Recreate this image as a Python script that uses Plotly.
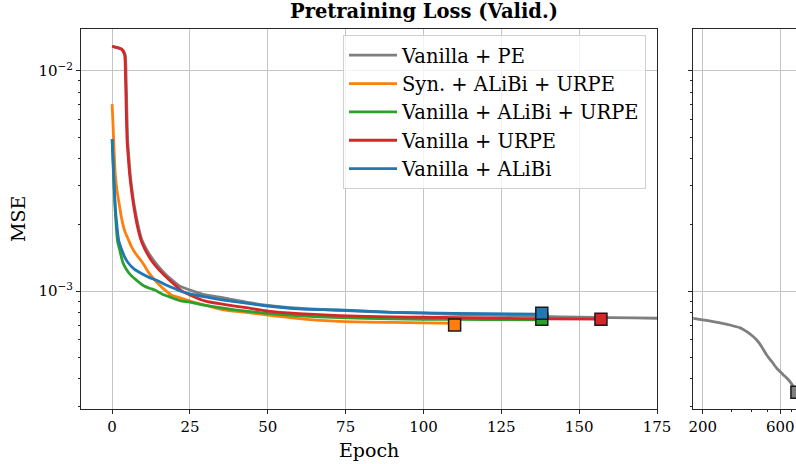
import math
import plotly.graph_objects as go

# ---------------- data ----------------
labels = ["Vanilla + PE", "Syn. + ALiBi + URPE", "Vanilla + ALiBi + URPE",
          "Vanilla + URPE", "Vanilla + ALiBi"]
colors = ["#7f7f7f", "#ff7f0e", "#2ca02c", "#d62728", "#1f77b4"]

pe_epoch = [0, 3.2, 4.2, 4.5, 4.7, 5.0, 5.4, 5.8, 6.5, 7.2, 8.3, 9.6, 11, 12.5, 14, 16, 18, 20,
            21.8, 25, 30, 35.8, 43, 50, 60, 75, 90, 100, 115, 125, 138, 150, 160, 175,
            200, 232, 294, 340, 373, 400, 430, 460, 495, 530, 571, 600, 627, 660, 689, 720, 760]
pe_loss = [0.0129, 0.0125, 0.0118, 0.0092, 0.0069, 0.0048, 0.0040, 0.0034, 0.0028, 0.0024, 0.0020,
           0.0017, 0.00155, 0.00143, 0.00134, 0.00124, 0.00116, 0.0011,
           0.00105, 0.00101, 0.00096, 0.00093, 0.00089, 0.00086, 0.000835, 0.000815, 0.0008,
           0.000793, 0.00078, 0.000775, 0.000766, 0.00076, 0.000757, 0.000752,
           0.00074, 0.000726, 0.000701, 0.00068, 0.000654, 0.00063, 0.000599, 0.00056, 0.000512,
           0.00048, 0.000446, 0.00043, 0.000416, 0.000402, 0.000388, 0.00037, 0.000347]

syn_epoch = [0, 0.5, 1.0, 1.5, 2.4, 3, 4, 5.3, 6.2, 7, 8, 9, 10, 11, 12, 13.7, 15, 17, 19,
             21.8, 25, 30, 35.8, 43, 50, 60, 73, 90, 100, 110]
syn_loss = [0.00705, 0.0048, 0.0034, 0.0029, 0.00242, 0.00215, 0.00188, 0.0017, 0.00159, 0.00152,
            0.00145, 0.00139, 0.00133, 0.00126, 0.0012, 0.00112, 0.00107, 0.00101, 0.00096,
            0.00093, 0.0009, 0.00086, 0.00082, 0.0008, 0.000778, 0.00075, 0.000728, 0.00072,
            0.000717, 0.000714]

aau_epoch = [0, 0.5, 1.0, 1.7, 2.5, 3.5, 4.5, 6, 7.8, 10, 12, 13.7, 16, 18.5, 21.8, 25, 30, 35.8,
             43, 50, 60, 73, 90, 100, 120, 138]
aau_loss = [0.00489, 0.0032, 0.0023, 0.0017, 0.00152, 0.00134, 0.00126, 0.00118, 0.00112, 0.00106,
            0.00103, 0.00101, 0.00097, 0.00094, 0.000905, 0.00089, 0.00086, 0.000835,
            0.00081, 0.000792, 0.000772, 0.000757, 0.000748, 0.000744, 0.000742, 0.00074]

urpe_epoch = [0, 2, 3.1, 4.0, 4.3, 4.5, 4.8, 5.2, 5.6, 6.3, 7.0, 8, 9.3, 10.5, 12, 13.2, 15, 17,
              20, 22, 25, 30, 35.8, 43, 50, 60, 73, 90, 100, 125, 140, 157]
urpe_loss = [0.0129, 0.0127, 0.0125, 0.0118, 0.0092, 0.0069, 0.0048, 0.0040, 0.0034, 0.0028,
             0.0024, 0.0020, 0.0017, 0.00155, 0.00142, 0.00134, 0.00125, 0.00117,
             0.00107, 0.00101, 0.00096, 0.0009, 0.00087, 0.00084, 0.000811, 0.00079, 0.000773,
             0.000763, 0.00076, 0.000752, 0.000748, 0.000745]

alibi_epoch = [0, 0.5, 1.0, 1.5, 2.1, 3, 4, 5.2, 7, 9.4, 12, 14.8, 17, 19, 21.8, 25, 30, 35.8,
               43, 50, 60, 73, 90, 100, 120, 138]
alibi_loss = [0.00489, 0.0034, 0.00242, 0.0020, 0.0017, 0.00155, 0.00143, 0.00134, 0.00126,
              0.0012, 0.00115, 0.00111, 0.00107, 0.00104, 0.0010, 0.00097, 0.00094, 0.00091,
              0.00088, 0.000855, 0.00083, 0.00082, 0.0008, 0.000795, 0.000789, 0.000785]

best_epoch = [760, 110, 138, 157, 138]
best_loss = [0.000347, 0.000701, 0.000744, 0.000744, 0.000792]

xticks_left = [0, 25, 50, 75, 100, 125, 150, 175]
xticks_right = [200, 600]
xminor_right = [300, 400, 500, 700]
yticks = [0.01, 0.001]
yticklabels = ["10<sup>\u22122</sup>", "10<sup>\u22123</sup>"]
yminor = [0.0003, 0.0004, 0.0005, 0.0006, 0.0007, 0.0008, 0.0009,
          0.002, 0.003, 0.004, 0.005, 0.006, 0.007, 0.008, 0.009]

series_x = [pe_epoch, syn_epoch, aau_epoch, urpe_epoch, alibi_epoch]
series_y = [pe_loss, syn_loss, aau_loss, urpe_loss, alibi_loss]

# ---------------- figure ----------------
W, H = 796, 464
FONT = "DejaVu Serif"
fig = go.Figure()

for i in range(5):
    fig.add_trace(go.Scatter(x=series_x[i], y=series_y[i], mode="lines", name=labels[i],
                             line=dict(color=colors[i], width=2.8, shape="spline", smoothing=0.6),
                             xaxis="x", yaxis="y"))
# gray continues on the right subplot
fig.add_trace(go.Scatter(x=pe_epoch, y=pe_loss, mode="lines", showlegend=False,
                         line=dict(color=colors[0], width=2.8, shape="spline", smoothing=0.6),
                         xaxis="x2", yaxis="y2"))

# best markers
for i in [1, 2, 3, 4]:
    fig.add_trace(go.Scatter(x=[best_epoch[i]], y=[best_loss[i]], mode="markers", showlegend=False,
                             marker=dict(symbol="square", size=12, color=colors[i],
                                         line=dict(color="#1a1a1a", width=1.5)),
                             xaxis="x", yaxis="y"))
fig.add_trace(go.Scatter(x=[best_epoch[0]], y=[best_loss[0]], mode="markers", showlegend=False,
                         marker=dict(symbol="square", size=12, color=colors[0],
                                     line=dict(color="#1a1a1a", width=1.5)),
                         xaxis="x2", yaxis="y2"))

def px_x(p):
    return p / W

def px_y(p):
    return 1 - p / H

ylo, yhi = -3.537, -1.812
axcommon = dict(showline=True, linecolor="#262626", linewidth=1, mirror=True,
                ticks="outside", ticklen=4, tickwidth=1, tickcolor="#262626",
                gridcolor="#c4c4c4", gridwidth=1, zeroline=False, automargin=False,
                tickfont=dict(family=FONT, size=15, color="black"))

fig.update_layout(
    width=W, height=H, autosize=False,
    margin=dict(l=0, r=0, t=0, b=0, pad=0),
    paper_bgcolor="white", plot_bgcolor="white",
    font=dict(family=FONT, color="black"),
    xaxis=dict(domain=[px_x(81), px_x(657)], range=[-10, 175], tickmode="array",
               tickvals=xticks_left, anchor="y", **axcommon),
    yaxis=dict(domain=[px_y(409.3), px_y(29.3)], type="log", range=[ylo, yhi],
               tickmode="array", tickvals=yticks, ticktext=yticklabels, anchor="x",
               minor=dict(tickvals=yminor, ticklen=2, tickcolor="#262626", showgrid=False,
                          ticks="outside"),
               **axcommon),
    xaxis2=dict(domain=[px_x(693.3), 1.0], type="log",
                range=[math.log10(175), math.log10(750)], tickmode="array",
                tickvals=xticks_right, ticktext=[str(v) for v in xticks_right], anchor="y2",
                minor=dict(tickvals=xminor_right, ticklen=2, tickcolor="#262626", showgrid=False,
                           ticks="outside"),
                **axcommon),
    yaxis2=dict(domain=[px_y(409.3), px_y(29.3)], type="log", range=[ylo, yhi],
                tickmode="array", tickvals=yticks, showticklabels=False, anchor="x2",
                minor=dict(tickvals=yminor, ticklen=2, tickcolor="#262626", showgrid=False,
                           ticks="outside"),
                **axcommon),
    legend=dict(x=px_x(343), y=px_y(35), xanchor="left", yanchor="top",
                bgcolor="rgba(255,255,255,0.8)", bordercolor="#d0d0d0", borderwidth=1,
                font=dict(family=FONT, size=19.5, color="black"), itemwidth=48,
                tracegroupgap=0),
    showlegend=True,
    annotations=[
        dict(text="<b>Pretraining Loss (Valid.)</b>", x=px_x(424.5), y=px_y(12),
             xref="paper", yref="paper", xanchor="center", yanchor="middle", showarrow=False,
             font=dict(family=FONT, size=19.5, color="black")),
        dict(text="Epoch", x=px_x(369), y=px_y(450), xref="paper", yref="paper",
             xanchor="center", yanchor="middle", showarrow=False,
             font=dict(family=FONT, size=19, color="black")),
        dict(text="MSE", x=px_x(18), y=px_y(219), xref="paper", yref="paper", textangle=-90,
             xanchor="center", yanchor="middle", showarrow=False,
             font=dict(family=FONT, size=19, color="black")),
    ],
)

fig.write_html("out.html")
